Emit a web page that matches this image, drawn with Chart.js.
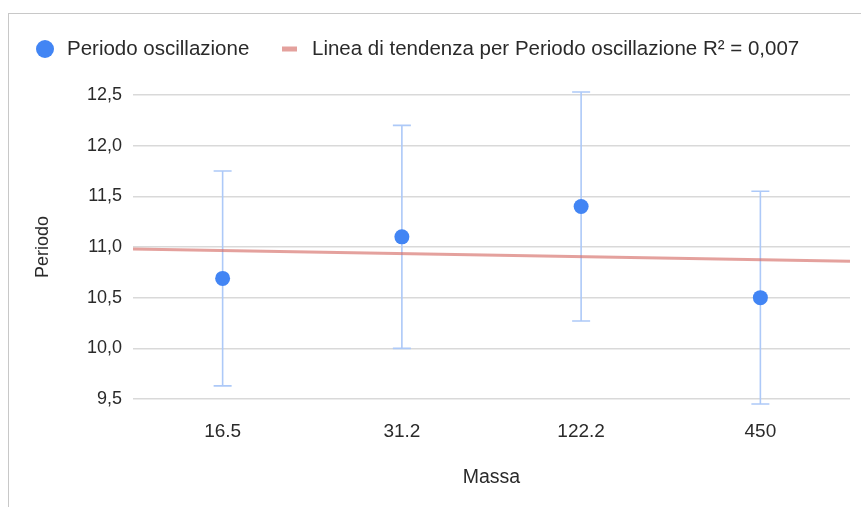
<!DOCTYPE html>
<html>
<head>
<meta charset="utf-8">
<script src="https://cdn.jsdelivr.net/npm/chart.js@4"></script>
<style>
  html, body { margin: 0; padding: 0; background: #fff; }
  #wrap { position: relative; width: 861px; height: 507px; overflow: hidden; }
  #frame { position: absolute; left: 8px; top: 13px; width: 900px; height: 600px;
           border-left: 1.5px solid #c8c8c8; border-top: 1.5px solid #c8c8c8; }
  canvas { position: absolute; left: 0; top: 0; }
</style>
</head>
<body>
<div id="wrap">
  <div id="frame"></div>
  <canvas id="c" width="861" height="507"></canvas>
</div>
<script>
// ---- data ----
const categories = ['16.5', '31.2', '122.2', '450'];
const periods    = [10.69, 11.10, 11.40, 10.50];
const errors     = [1.06, 1.10, 1.13, 1.05];
const trendX     = [0.5, 4.5];
const trendY     = [10.98, 10.86];
const yTicks     = [9.5, 10.0, 10.5, 11.0, 11.5, 12.0, 12.5];
const seriesName = 'Periodo oscillazione';
const trendName  = 'Linea di tendenza per Periodo oscillazione R² = 0,007';
const xTitle     = 'Massa';
const yTitle     = 'Periodo';

const FONT = "'Liberation Sans', Arial, Helvetica, sans-serif";
const TEXT = '#2a2a2a';
const BLUE = '#4285f4';
const ERR  = '#adc9f8';
const TREND = 'rgba(214, 110, 104, 0.65)';

const errorBars = {
  id: 'errorBars',
  beforeDatasetsDraw(chart) {
    const {ctx, scales: {x, y}} = chart;
    ctx.save();
    ctx.strokeStyle = ERR;
    ctx.lineWidth = 1.6;
    periods.forEach((v, i) => {
      const px = x.getPixelForValue(i + 1);
      const top = y.getPixelForValue(v + errors[i]);
      const bot = y.getPixelForValue(v - errors[i]);
      ctx.beginPath();
      ctx.moveTo(px, top); ctx.lineTo(px, bot);
      ctx.moveTo(px - 9, top); ctx.lineTo(px + 9, top);
      ctx.moveTo(px - 9, bot); ctx.lineTo(px + 9, bot);
      ctx.stroke();
    });
    ctx.restore();
  }
};

const customLegend = {
  id: 'customLegend',
  afterDraw(chart) {
    const ctx = chart.ctx;
    const ds = chart.data.datasets;
    ctx.save();
    ctx.font = '20.5px ' + FONT;
    ctx.fillStyle = TEXT;
    ctx.textBaseline = 'middle';
    const cy = 49;
    // series marker
    ctx.beginPath();
    ctx.fillStyle = ds[0].backgroundColor;
    ctx.arc(45, cy, 9, 0, Math.PI * 2);
    ctx.fill();
    ctx.fillStyle = TEXT;
    ctx.fillText(ds[0].label, 67, cy);
    // trend marker
    ctx.strokeStyle = ds[1].borderColor;
    ctx.lineWidth = 5;
    ctx.beginPath();
    ctx.moveTo(282, cy); ctx.lineTo(297, cy);
    ctx.stroke();
    ctx.fillText(ds[1].label, 312, cy);
    ctx.restore();
  }
};

new Chart(document.getElementById('c'), {
  type: 'scatter',
  data: {
    datasets: [
      {
        label: seriesName,
        data: periods.map((v, i) => ({x: i + 1, y: v})),
        backgroundColor: BLUE,
        borderWidth: 0,
        pointRadius: 7.5,
        pointHoverRadius: 7.5,
        order: 1
      },
      {
        label: trendName,
        type: 'line',
        data: trendX.map((xv, i) => ({x: xv, y: trendY[i]})),
        borderColor: TREND,
        borderWidth: 3,
        pointRadius: 0,
        fill: false,
        order: 2
      }
    ]
  },
  options: {
    responsive: false,
    animation: false,
    events: [],
    layout: { padding: { left: 0, right: 11, top: 95, bottom: 0 } },
    plugins: { legend: { display: false }, tooltip: { enabled: false } },
    scales: {
      x: {
        type: 'linear',
        min: 0.5, max: 4.5,
        afterBuildTicks: (axis) => { axis.ticks = categories.map((c, i) => ({value: i + 1})); },
        afterFit: (s) => { s.height = 108; },
        grid: { display: false, drawTicks: false },
        border: { display: false },
        ticks: {
          callback: (v) => categories[v - 1],
          font: { family: FONT, size: 19 },
          color: TEXT,
          padding: 21,
          maxRotation: 0
        },
        title: { display: true, text: xTitle, font: { family: FONT, size: 19.5 }, color: TEXT, padding: { top: 0, bottom: 18 } }
      },
      y: {
        min: 9.5, max: 12.5,
        afterBuildTicks: (axis) => { axis.ticks = yTicks.map(v => ({value: v})); },
        afterFit: (s) => { s.width = 133; },
        grid: { color: '#d9d9d9', lineWidth: 1.6, drawTicks: false },
        border: { display: false },
        ticks: {
          callback: (v) => v.toFixed(1).replace('.', ','),
          font: { family: FONT, size: 18 },
          color: TEXT,
          padding: 11
        },
        title: { display: true, text: yTitle, font: { family: FONT, size: 18 }, color: TEXT, padding: { top: 32, bottom: 0 } }
      }
    }
  },
  plugins: [errorBars, customLegend]
});
</script>
</body>
</html>
